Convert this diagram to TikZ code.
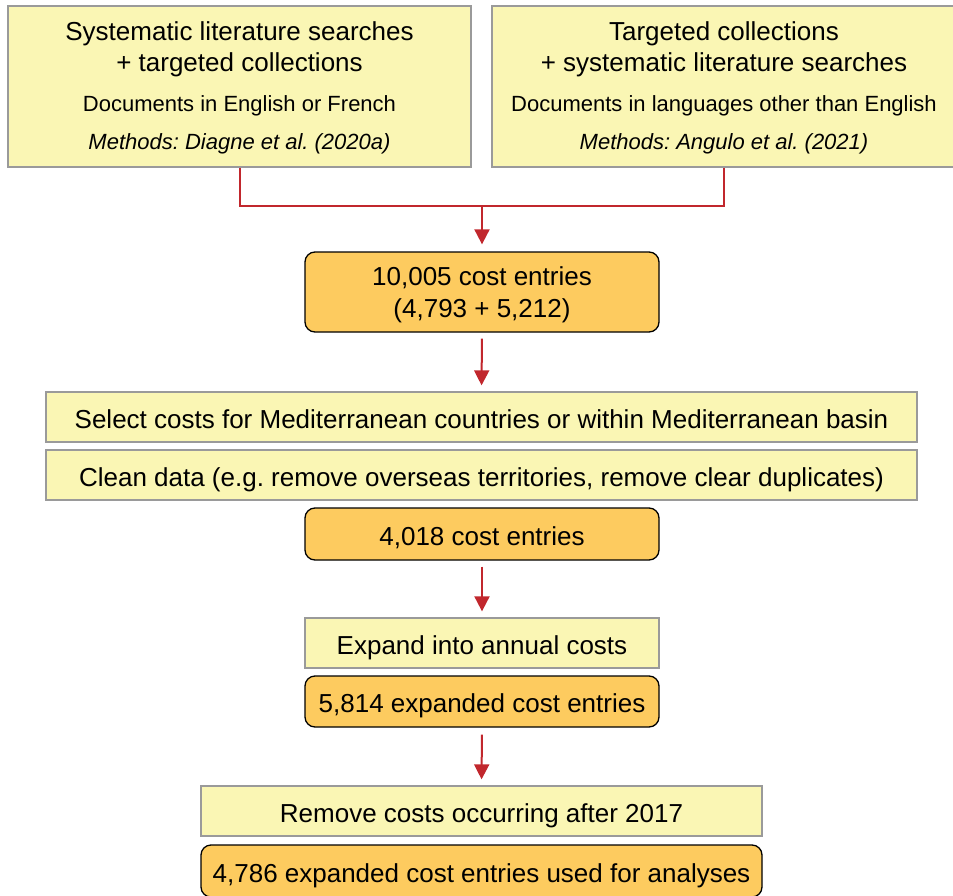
\documentclass[tikz,border=0pt]{standalone}
\usepackage{fontspec}
\setmainfont{Liberation Sans}
\usetikzlibrary{arrows.meta}
\definecolor{pyellow}{HTML}{FAF6B4}
\definecolor{porange}{HTML}{FDCB5F}
\definecolor{pred}{HTML}{C1272D}
\definecolor{pgray}{HTML}{9A9A9A}
\frenchspacing
\begin{document}
\begin{tikzpicture}[x=1pt,y=-1pt,
  ybox/.style={draw=pgray, line width=1.3pt, fill=pyellow, inner sep=0pt},
  obox/.style={draw=black, line width=1.3pt, fill=porange, rounded corners=10pt, inner sep=0pt},
  big/.style={font=\fontsize{26}{32}\selectfont},
  small/.style={font=\fontsize{22}{26}\selectfont},
  one/.style={big, text height=22pt, text depth=0pt},
  txt/.style={inner sep=0pt, anchor=base},
  link/.style={draw=pred, line width=2pt},
  arr/.style={link, -{Triangle[length=15pt,width=15pt]}}]
\useasboundingbox (0,0) rectangle (953,896);

% top boxes
\node[ybox, minimum width=463pt, minimum height=161pt] (tl) at (239.5,86.5) {};
\node[txt, big] (tl1) at (239.5,41) {Systematic literature searches};
\node[txt, big] (tl2) at (239.5,72) {+ targeted collections};
\node[txt, small] (tl3) at (239.5,112) {Documents in English or French};
\node[txt, small, font=\fontsize{22}{26}\selectfont\itshape] (tl4) at (239.5,150) {Methods: Diagne et al. (2020a)};

\node[ybox, minimum width=464pt, minimum height=161pt] (tr) at (724,86.5) {};
\node[txt, big] (tr1) at (724,41) {Targeted collections};
\node[txt, big] (tr2) at (724,72) {+ systematic literature searches};
\node[txt, small] (tr3) at (724,112) {Documents in languages other than English};
\node[txt, small, font=\fontsize{22}{26}\selectfont\itshape] (tr4) at (724,150) {Methods: Angulo et al. (2021)};

% 10,005
\node[obox, minimum width=354pt, minimum height=80pt] (c1) at (482,292) {};
\node[txt, big] (c1a) at (482,285) {10,005 cost entries};
\node[txt, big] (c1b) at (482,317) {(4,793 + 5,212)};

% middle
\node[ybox, one, minimum width=871pt, minimum height=50pt] (sel) at (481.5,417) {Select costs for Mediterranean countries or within Mediterranean basin};
\node[ybox, one, minimum width=871pt, minimum height=50pt] (cln) at (481.5,475) {Clean data (e.g. remove overseas territories, remove clear duplicates)};
\node[obox, one, minimum width=354pt, minimum height=52pt] (c2) at (482,534) {4,018 cost entries};

\node[ybox, one, minimum width=354pt, minimum height=50pt] (exp) at (482,643) {Expand into annual costs};
\node[obox, one, minimum width=354pt, minimum height=51pt] (c3) at (482,701.5) {5,814 expanded cost entries};

\node[ybox, one, minimum width=561pt, minimum height=50pt] (rem) at (481.5,811) {Remove costs occurring after 2017};
\node[obox, one, minimum width=561pt, minimum height=52pt] (c4) at (481.5,871) {4,786 expanded cost entries used for analyses};

% connectors
\coordinate (jn) at (482,206);
\draw[link] (tl.south) |- (jn) -| (tr.south);
\draw[arr, shorten >=7pt] (jn) -- (c1.north);
\draw[arr, shorten <=6pt, shorten >=6pt] (c1.south) -- (sel.north);
\draw[arr, shorten <=6pt, shorten >=6pt] (c2.south) -- (exp.north);
\draw[arr, shorten <=7pt, shorten >=6pt] (c3.south) -- (rem.north);
\end{tikzpicture}
\end{document}
